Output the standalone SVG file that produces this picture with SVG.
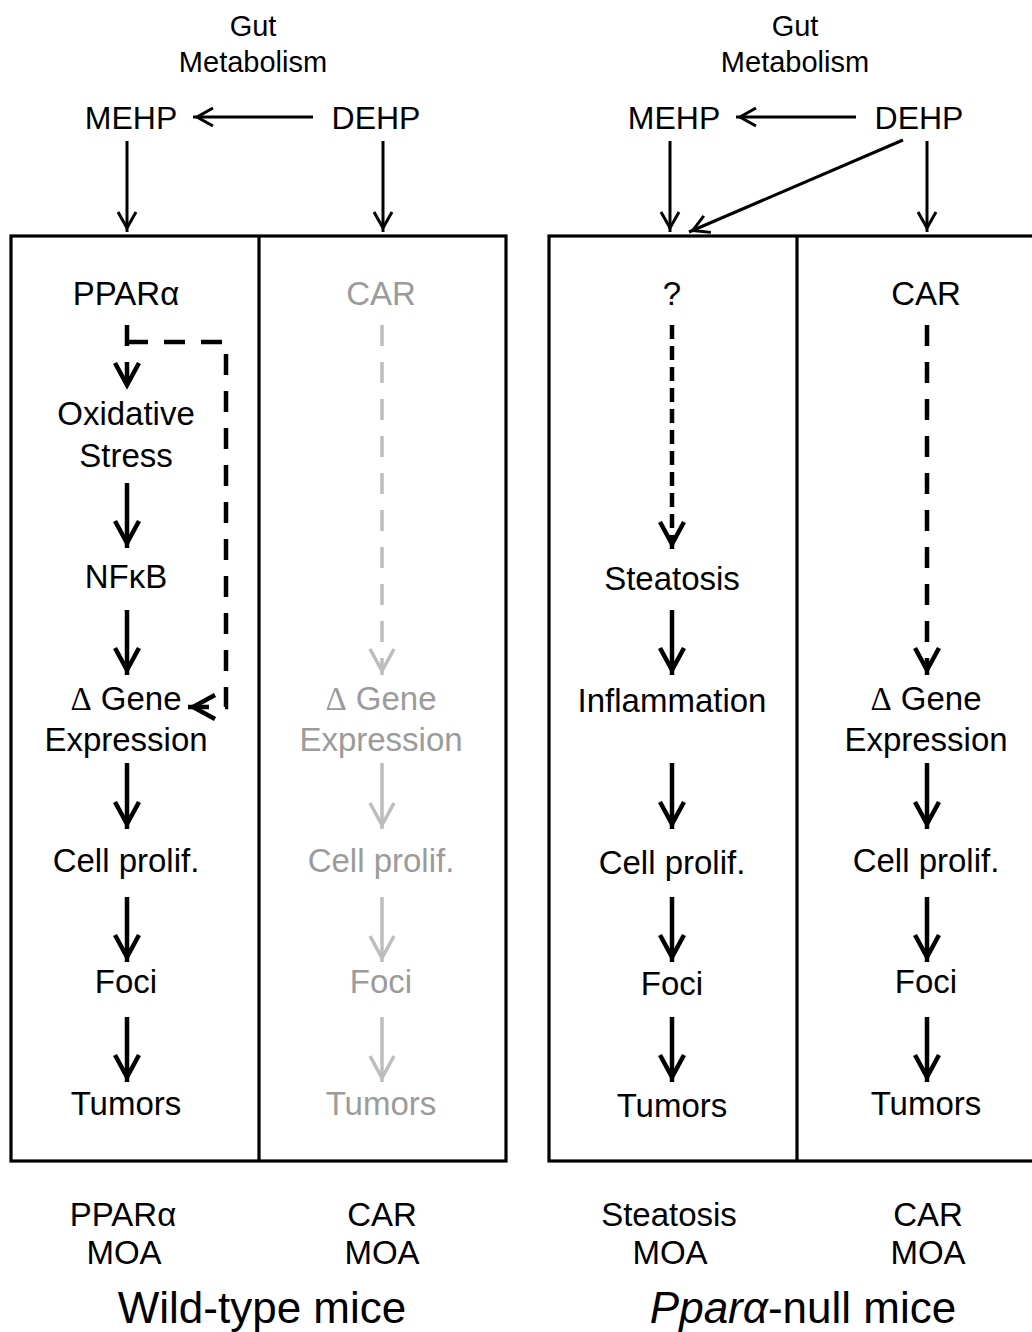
<svg xmlns="http://www.w3.org/2000/svg" width="1032" height="1332" viewBox="0 0 1032 1332">
<style>
text{font-family:"Liberation Sans",Arial,sans-serif;fill:#000;text-anchor:middle}
.t{font-size:29px}
.m{font-size:32px}
.l{font-size:33px}
.n{font-size:33px}
.g{fill:#9b9b9b}
.big{font-size:44px}
.d{font-family:"Liberation Serif","DejaVu Serif",serif}
.box{fill:none;stroke:#000;stroke-width:3.2}
.a1{fill:none;stroke:#000;stroke-width:3}
.a2{fill:none;stroke:#000;stroke-width:4.5}
.ag{fill:none;stroke:#bdbdbd;stroke-width:3.5}
.dl{stroke-dasharray:21 16}
.ds{stroke-dasharray:14 7}
</style>
<defs>
<marker id="hs" markerUnits="userSpaceOnUse" markerWidth="40" markerHeight="40" refX="0" refY="0" orient="auto" overflow="visible">
<path d="M-20,-9 L-4,0 L-20,9" fill="none" stroke="#000" stroke-width="3" stroke-dasharray="none"/>
</marker>
<marker id="hb" markerUnits="userSpaceOnUse" markerWidth="40" markerHeight="40" refX="0" refY="0" orient="auto" overflow="visible">
<path d="M-27,-12 L-5,0 L-27,12" fill="none" stroke="#000" stroke-width="4.5" stroke-dasharray="none"/>
</marker>
<marker id="hg" markerUnits="userSpaceOnUse" markerWidth="40" markerHeight="40" refX="0" refY="0" orient="auto" overflow="visible">
<path d="M-26,-12 L-4,0 L-26,12" fill="none" stroke="#bdbdbd" stroke-width="3.5" stroke-dasharray="none"/>
</marker>
</defs>

<g id="boxes">
<rect id="box-wt" class="box" x="11" y="236" width="495" height="925"/>
<line class="box" x1="259" y1="236" x2="259" y2="1161"/>
<rect id="box-null" class="box" x="549" y="236" width="495" height="925"/>
<line class="box" x1="797" y1="236" x2="797" y2="1161"/>
</g>

<g id="connectors">
<line class="a1" x1="313" y1="117" x2="193" y2="117" marker-end="url(#hs)"/>
<line class="a1" x1="127" y1="141" x2="127" y2="232" marker-end="url(#hs)"/>
<line class="a1" x1="383" y1="141" x2="383" y2="232" marker-end="url(#hs)"/>
<line class="a1" x1="856" y1="117" x2="736" y2="117" marker-end="url(#hs)"/>
<line class="a1" x1="670" y1="141" x2="670" y2="232" marker-end="url(#hs)"/>
<line class="a1" x1="927" y1="141" x2="927" y2="232" marker-end="url(#hs)"/>
<line class="a1" x1="903" y1="140" x2="689" y2="232" marker-end="url(#hs)"/>

<line class="a2 dl" x1="127" y1="325" x2="127" y2="390" marker-end="url(#hb)"/>
<path class="a2 dl" d="M127,342 H226 V707 H188" marker-end="url(#hb)"/>
<line class="a2" x1="127" y1="483" x2="127" y2="548" marker-end="url(#hb)"/>
<line class="a2" x1="127" y1="610" x2="127" y2="675" marker-end="url(#hb)"/>
<line class="a2" x1="127" y1="763" x2="127" y2="829" marker-end="url(#hb)"/>
<line class="a2" x1="127" y1="897" x2="127" y2="962" marker-end="url(#hb)"/>
<line class="a2" x1="127" y1="1017" x2="127" y2="1082" marker-end="url(#hb)"/>

<line class="ag dl" x1="382" y1="325" x2="382" y2="675" marker-end="url(#hg)"/>
<line class="ag" x1="382" y1="763" x2="382" y2="829" marker-end="url(#hg)"/>
<line class="ag" x1="382" y1="897" x2="382" y2="962" marker-end="url(#hg)"/>
<line class="ag" x1="382" y1="1017" x2="382" y2="1082" marker-end="url(#hg)"/>

<line class="a2 ds" x1="672" y1="325" x2="672" y2="549" marker-end="url(#hb)"/>
<line class="a2" x1="672" y1="610" x2="672" y2="675" marker-end="url(#hb)"/>
<line class="a2" x1="672" y1="763" x2="672" y2="829" marker-end="url(#hb)"/>
<line class="a2" x1="672" y1="897" x2="672" y2="962" marker-end="url(#hb)"/>
<line class="a2" x1="672" y1="1017" x2="672" y2="1082" marker-end="url(#hb)"/>

<line class="a2 dl" x1="927" y1="325" x2="927" y2="675" marker-end="url(#hb)"/>
<line class="a2" x1="927" y1="763" x2="927" y2="829" marker-end="url(#hb)"/>
<line class="a2" x1="927" y1="897" x2="927" y2="962" marker-end="url(#hb)"/>
<line class="a2" x1="927" y1="1017" x2="927" y2="1082" marker-end="url(#hb)"/>
</g>

<g id="gut-wt"><text class="t" x="253" y="36">Gut</text><text class="t" x="253" y="72">Metabolism</text></g>
<g id="mehp-wt"><text class="m" x="131" y="129">MEHP</text></g>
<g id="dehp-wt"><text class="m" x="376" y="129">DEHP</text></g>
<g id="gut-null"><text class="t" x="795" y="36">Gut</text><text class="t" x="795" y="72">Metabolism</text></g>
<g id="mehp-null"><text class="m" x="674" y="129">MEHP</text></g>
<g id="dehp-null"><text class="m" x="919" y="129">DEHP</text></g>

<g id="ppara"><text class="n" x="126" y="305">PPARα</text></g>
<g id="oxstress"><text class="n" x="126" y="425">Oxidative</text><text class="n" x="126" y="467">Stress</text></g>
<g id="nfkb"><text class="n" x="126" y="588">NFκB</text></g>
<g id="gene-wt"><text class="n" x="126" y="710"><tspan class="d">Δ</tspan> Gene</text><text class="n" x="126" y="751">Expression</text></g>
<g id="prolif-wt"><text class="n" x="126" y="872">Cell prolif.</text></g>
<g id="foci-wt"><text class="n" x="126" y="993">Foci</text></g>
<g id="tumors-wt"><text class="n" x="126" y="1115">Tumors</text></g>

<g id="car-wt"><text class="n g" x="381" y="305">CAR</text></g>
<g id="gene-car-wt"><text class="n g" x="381" y="710"><tspan class="d">Δ</tspan> Gene</text><text class="n g" x="381" y="751">Expression</text></g>
<g id="prolif-car-wt"><text class="n g" x="381" y="872">Cell prolif.</text></g>
<g id="foci-car-wt"><text class="n g" x="381" y="993">Foci</text></g>
<g id="tumors-car-wt"><text class="n g" x="381" y="1115">Tumors</text></g>

<g id="unknown"><text class="n" x="672" y="305">?</text></g>
<g id="steatosis"><text class="n" x="672" y="590">Steatosis</text></g>
<g id="inflammation"><text class="n" x="672" y="712">Inflammation</text></g>
<g id="prolif-null"><text class="n" x="672" y="874">Cell prolif.</text></g>
<g id="foci-null"><text class="n" x="672" y="995">Foci</text></g>
<g id="tumors-null"><text class="n" x="672" y="1117">Tumors</text></g>

<g id="car-null"><text class="n" x="926" y="305">CAR</text></g>
<g id="gene-null"><text class="n" x="926" y="710"><tspan class="d">Δ</tspan> Gene</text><text class="n" x="926" y="751">Expression</text></g>
<g id="prolif-car-null"><text class="n" x="926" y="872">Cell prolif.</text></g>
<g id="foci-car-null"><text class="n" x="926" y="993">Foci</text></g>
<g id="tumors-car-null"><text class="n" x="926" y="1115">Tumors</text></g>

<g id="labels">
<text class="l" x="123" y="1226">PPARα</text><text class="l" x="124" y="1264">MOA</text>
<text class="l" x="382" y="1226">CAR</text><text class="l" x="382" y="1264">MOA</text>
<text class="l" x="669" y="1226">Steatosis</text><text class="l" x="670" y="1264">MOA</text>
<text class="l" x="928" y="1226">CAR</text><text class="l" x="928" y="1264">MOA</text>
<text class="big" x="262" y="1323">Wild-type mice</text>
<text class="big" x="803" y="1323"><tspan font-style="italic">Pparα</tspan>-null mice</text>
</g>
</svg>
